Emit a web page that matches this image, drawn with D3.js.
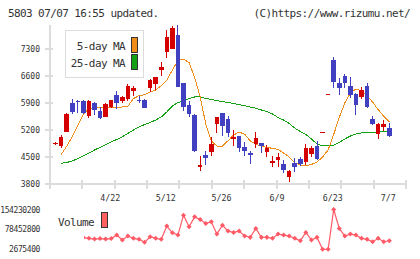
<!DOCTYPE html>
<html>
<head>
<meta charset="utf-8">
<script src="https://cdn.jsdelivr.net/npm/d3@7"></script>
<style>
  body { margin: 0; background: #fff; }
  text { font-family: "DejaVu Sans Mono", monospace; fill: #333; }
</style>
</head>
<body>
<div id="chart"></div>
<script>
// daily candles, 4/8 .. 7/7
var openP  = [4850,4790,5160,5890,5950,5950,5560,5890,5700,5550,5800,6110,5960,6000,6220,5990,5980,6280,6390,6760,7230,7300,7660,6430,5850,5590,4250,4550,4640,5350,5630,5480,4970,5040,4770,4610,4840,4860,4640,4350,4420,4320,3990,4350,4440,4380,4580,4790,5140,6140,7020,6410,6610,6350,6130,6060,6340,5490,5090,5290,5260];
var highP  = [4890,5070,5640,6000,5980,5980,5980,5930,5800,5890,5990,6220,6080,6390,6340,6080,6000,6510,6580,6970,7790,7900,7920,6430,5960,5620,4530,4660,5030,5540,5640,5560,5200,5050,4880,4660,5160,4870,4810,4530,4600,4420,4160,4470,4510,4840,4790,4920,5140,6140,7080,6560,6650,6580,6170,6320,6430,5560,5370,5460,5370];
var lowP   = [4820,4730,5140,5620,5650,5610,5500,5590,5490,5530,5760,5740,5890,5950,6080,5890,5760,6190,6240,6600,7060,7290,6310,5700,5550,4640,4140,4290,4530,5110,5040,5010,4790,4640,4530,4320,4730,4600,4510,4250,4250,4090,3860,4120,4270,4290,4510,4420,5140,6140,6280,6110,6280,6040,5590,6000,5780,5330,4970,5180,5030];
var closeP = [4860,5030,5620,5670,5920,5630,5950,5720,5520,5870,5980,5890,6050,6340,6280,5965,5780,6500,6570,6840,7620,7840,6320,5800,5620,4660,4290,4480,4840,5530,5300,5130,5030,4740,4660,4550,5000,4790,4740,4400,4510,4160,4140,4250,4320,4740,4740,4440,5140,6140,6450,6300,6410,6110,5850,6240,5800,5350,5345,5360,5050];

var ma5  = [null,4560,4777,5031,5317,5607,5763,5778,5789,5789,5789,5794,5796,5815,6014,6092,6115,6185,6237,6346,6496,6755,7002,7033,6950,6561,6055,5356,4918,4785,4785,4920,5070,5148,5088,4920,4834,4785,4748,4725,4694,4604,4500,4347,4293,4280,4305,4370,4500,4681,5083,5524,5900,6160,6265,6215,6085,5925,5727,5556,5415];
var ma25 = [null,4337,4357,4396,4461,4526,4604,4681,4751,4824,4889,4954,5026,5114,5200,5278,5343,5394,5459,5537,5667,5822,5913,5952,6017,6056,6056,6017,5991,5960,5939,5913,5887,5856,5830,5796,5763,5719,5680,5615,5524,5459,5369,5252,5161,5083,4967,4837,4785,4798,4811,4876,4967,5044,5096,5127,5140,5140,5148,5161,5174];

var volume = [60000000,60000000,60000000,60000000,60000000,47400000,44400000,41700000,43600000,41700000,43600000,56900000,37900000,53100000,44400000,40600000,29200000,50400000,44400000,40600000,91000000,65600000,56900000,132600000,88300000,126200000,116300000,101200000,107200000,60600000,94700000,72000000,67100000,72000000,53100000,48100000,82200000,48100000,48100000,44400000,60600000,56900000,53100000,44400000,35300000,67100000,37900000,48100000,2900000,2675400,154230200,82200000,53100000,60600000,56900000,44400000,40600000,31500000,44400000,31500000,35300000];

var priceTicks = [3800, 4500, 5200, 5900, 6600, 7300];
var volTicks = [2675400, 78452800, 154230200];
var dateTickIdx = [10, 20, 30, 40, 50, 60];
var dateTickLabels = ["4/22", "5/12", "5/26", "6/9", "6/23", "7/7"];

var W = 420, H = 259;
var upColor = "#d40000", downColor = "#4040c0";
var gridColor = "#dcdcdc";

var svg = d3.select("#chart").append("svg")
  .attr("width", W)
  .attr("height", H);

var x = d3.scaleLinear().domain([-1, 63]).range([50, 406]);
var y = d3.scaleLinear().domain([3800, 8000]).range([184, 22]);
var yv = d3.scaleLinear().domain([2675400, 154230200]).range([249.3, 209.5]);

// header
svg.append("text").attr("x", 8).attr("y", 17)
  .style("font-size", "11px").style("letter-spacing", "-0.6px")
  .text("5803 07/07 16:55 updated.");
svg.append("text").attr("x", 410).attr("y", 17).attr("text-anchor", "end")
  .style("font-size", "11px").style("letter-spacing", "-0.6px")
  .text("(C)https://www.rizumu.net/");

// axes
var axes = svg.append("g").attr("shape-rendering", "crispEdges")
  .attr("stroke", gridColor).attr("stroke-width", 2);
axes.append("line").attr("x1", 50).attr("x2", 50).attr("y1", 25).attr("y2", 185);
axes.append("line").attr("x1", 50).attr("x2", 407).attr("y1", 184).attr("y2", 184);
axes.selectAll(".yt").data(priceTicks).enter().append("line")
  .attr("x1", 45).attr("x2", 53)
  .attr("y1", function(d) { return y(d); })
  .attr("y2", function(d) { return y(d); });
axes.selectAll(".xt").data(d3.range(12)).enter().append("line")
  .attr("x1", function(d) { return 50 + d * 356 / 11; })
  .attr("x2", function(d) { return 50 + d * 356 / 11; })
  .attr("y1", 180).attr("y2", 189);

svg.selectAll(".ylab").data(priceTicks).enter().append("text")
  .attr("x", 40).attr("y", function(d) { return y(d) + 3; })
  .attr("text-anchor", "end")
  .style("font-size", "8px")
  .text(function(d) { return d; });

svg.selectAll(".xlab").data(dateTickIdx).enter().append("text")
  .attr("x", function(d) { return x(d) - 1; })
  .attr("y", 201)
  .attr("text-anchor", "middle")
  .style("font-size", "8.3px")
  .text(function(d, i) { return dateTickLabels[i]; });

// moving averages
var maLine = d3.line()
  .defined(function(d) { return d !== null; })
  .x(function(d, i) { return x(i); })
  .y(function(d) { return y(d); });

svg.append("path").datum(ma25)
  .attr("d", maLine).attr("fill", "none")
  .attr("stroke", "#14a014").attr("stroke-width", 1)
  .attr("shape-rendering", "crispEdges");
svg.append("path").datum(ma5)
  .attr("d", maLine).attr("fill", "none")
  .attr("stroke", "#f08c1a").attr("stroke-width", 1)
  .attr("shape-rendering", "crispEdges");

// candles
var candles = svg.append("g").attr("shape-rendering", "crispEdges");
var cw = 4.6;
candles.selectAll(".wick").data(closeP).enter().append("rect")
  .attr("x", function(d, i) { return x(i) - 0.5; })
  .attr("width", 1)
  .attr("y", function(d, i) { return y(highP[i]); })
  .attr("height", function(d, i) { return Math.max(1, y(lowP[i]) - y(highP[i])); })
  .attr("fill", function(d, i) { return d >= openP[i] ? upColor : downColor; });
candles.selectAll(".body").data(closeP).enter().append("rect")
  .attr("x", function(d, i) { return x(i) - cw / 2; })
  .attr("width", cw)
  .attr("y", function(d, i) { return y(Math.max(d, openP[i])); })
  .attr("height", function(d, i) { return Math.max(1, Math.abs(y(d) - y(openP[i]))); })
  .attr("fill", function(d, i) { return d >= openP[i] ? upColor : downColor; });

// legend
svg.append("rect").attr("x", 65.5).attr("y", 30.5).attr("width", 78).attr("height", 47)
  .attr("fill", "#fff").attr("stroke", gridColor).attr("stroke-width", 1);
svg.append("text").attr("x", 125).attr("y", 50).attr("text-anchor", "end")
  .style("font-size", "11px").style("letter-spacing", "-0.6px").text("5-day MA");
svg.append("text").attr("x", 125).attr("y", 67).attr("text-anchor", "end")
  .style("font-size", "11px").style("letter-spacing", "-0.6px").text("25-day MA");
svg.append("rect").attr("x", 131.5).attr("y", 37.5).attr("width", 6).attr("height", 15)
  .attr("fill", "#f08c1a").attr("stroke", "#333");
svg.append("rect").attr("x", 131.5).attr("y", 54.5).attr("width", 6).attr("height", 15)
  .attr("fill", "#14a014").attr("stroke", "#333");

// volume
var volColor = "#ff5a66";
var vline = d3.line()
  .x(function(d, i) { return x(i); })
  .y(function(d) { return yv(d); });
svg.append("path").datum(volume)
  .attr("d", vline).attr("fill", "none")
  .attr("stroke", volColor).attr("stroke-width", 1.2);
svg.selectAll(".vpt").data(volume).enter().append("path")
  .attr("transform", function(d, i) { return "translate(" + x(i) + "," + yv(d) + ")"; })
  .attr("d", d3.symbol(d3.symbolDiamond2, 16))
  .attr("fill", volColor);

svg.selectAll(".vlab").data(volTicks).enter().append("text")
  .attr("x", 40).attr("y", function(d) { return yv(d) + 3; })
  .attr("text-anchor", "end")
  .style("font-size", "8px").style("letter-spacing", "-0.4px")
  .text(function(d) { return d; });

svg.append("rect").attr("x", 52).attr("y", 205).attr("width", 32).attr("height", 40)
  .attr("fill", "#fff");
svg.append("text").attr("x", 58).attr("y", 226)
  .style("font-size", "11px").style("letter-spacing", "-0.6px").text("Volume");
svg.append("rect").attr("x", 101.5).attr("y", 212.5).attr("width", 6).attr("height", 15)
  .attr("fill", "#ff6060").attr("stroke", "#333");
</script>
</body>
</html>
